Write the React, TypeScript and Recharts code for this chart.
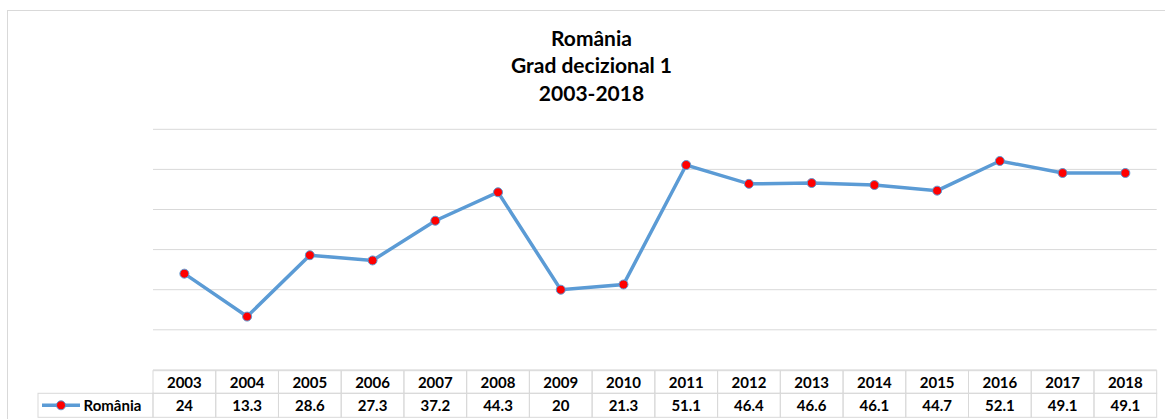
import React from 'react';
import { LineChart, Line, XAxis, YAxis, CartesianGrid } from 'recharts';

const years = ['2003', '2004', '2005', '2006', '2007', '2008', '2009', '2010', '2011', '2012', '2013', '2014', '2015', '2016', '2017', '2018'];
const values = [24, 13.3, 28.6, 27.3, 37.2, 44.3, 20, 21.3, 51.1, 46.4, 46.6, 46.1, 44.7, 52.1, 49.1, 49.1];
const seriesName = 'România';
const titleLines = ['România', 'Grad decizional 1', '2003-2018'];
const yTicks = [10, 20, 30, 40, 50, 60];
const yDomain = [0, 60];

const data = years.map((year, i) => ({ year, value: values[i] }));

const W = 1165;
const H = 419;
const LEFT = 153;
const RIGHT = 8.3;
const TOP = 129.3;
const XAXIS_H = 49.1;
const COL_W = (W - LEFT - RIGHT) / years.length;

const LINE_COLOR = '#5B9BD5';
const DOT_COLOR = '#FF0000';
const GRID_COLOR = '#D9D9D9';
const FONT = 'Lato, "Open Sans", sans-serif';

const ROW1_TOP = 370.7;
const ROW2_TOP = 393.3;
const ROW2_BOTTOM = 417.3;

const TableTick = (props: any) => {
  const { x, payload, index } = props;
  const v = data.find((d) => d.year === payload.value);
  return (
    <g>
      <rect x={x - COL_W / 2} y={ROW1_TOP} width={COL_W} height={ROW2_TOP - ROW1_TOP} fill="none" stroke={GRID_COLOR} strokeWidth={1} />
      <text x={x} y={387.5} textAnchor="middle" fontFamily={FONT} fontWeight="bold" fontSize={15} fill="#000">
        {payload.value}
      </text>
      <rect x={x - COL_W / 2} y={ROW2_TOP} width={COL_W} height={ROW2_BOTTOM - ROW2_TOP} fill="none" stroke={GRID_COLOR} strokeWidth={1} />
      <text x={x} y={410.5} textAnchor="middle" fontFamily={FONT} fontWeight="bold" fontSize={15} fill="#000">
        {v ? String(v.value) : ''}
      </text>
      {index === 0 && (
        <g>
          <rect x={38} y={ROW2_TOP} width={x - COL_W / 2 - 38} height={ROW2_BOTTOM - ROW2_TOP} fill="none" stroke={GRID_COLOR} strokeWidth={1} />
          <line x1={42} x2={80} y1={405.3} y2={405.3} stroke={LINE_COLOR} strokeWidth={3.5} />
          <circle cx={61} cy={405.3} r={4.5} fill={DOT_COLOR} stroke={LINE_COLOR} strokeWidth={1} />
          <text x={83.5} y={410.5} fontFamily={FONT} fontWeight="bold" fontSize={15} fill="#000">
            {seriesName}
          </text>
        </g>
      )}
    </g>
  );
};

export default function App() {
  return (
    <div style={{ position: 'absolute', left: 0, top: 0, width: W, height: H, overflow: 'hidden', background: '#fff' }}>
      <div
        style={{
          position: 'absolute',
          left: 7,
          top: 10,
          width: W + 20,
          height: H + 20,
          border: `1px solid ${GRID_COLOR}`,
          boxSizing: 'border-box',
        }}
      />
      <svg style={{ position: 'absolute', left: 0, top: 0 }} width={W} height={120}>
        {titleLines.map((t, i) => (
          <text key={i} x={591.5} y={45.5 + i * 27.5} textAnchor="middle" fontFamily={FONT} fontWeight="bold" fontSize={21} fill="#000">
            {t}
          </text>
        ))}
      </svg>
      <div style={{ position: 'absolute', left: 0, top: 0 }}>
        <LineChart width={W} height={H} data={data} margin={{ top: TOP, right: RIGHT, bottom: 0, left: LEFT }}>
          <CartesianGrid vertical={false} stroke={GRID_COLOR} strokeWidth={1} />
          <YAxis hide domain={yDomain} ticks={yTicks} type="number" />
          <XAxis
            dataKey="year"
            height={XAXIS_H}
            axisLine={false}
            tickLine={false}
            interval={0}
            padding={{ left: COL_W / 2, right: COL_W / 2 }}
            tick={<TableTick />}
          />
          <Line
            type="linear"
            dataKey="value"
            name={seriesName}
            stroke={LINE_COLOR}
            strokeWidth={3.5}
            dot={{ r: 4.5, fill: DOT_COLOR, stroke: LINE_COLOR, strokeWidth: 1 }}
            activeDot={false}
            isAnimationActive={false}
          />
        </LineChart>
      </div>
    </div>
  );
}
